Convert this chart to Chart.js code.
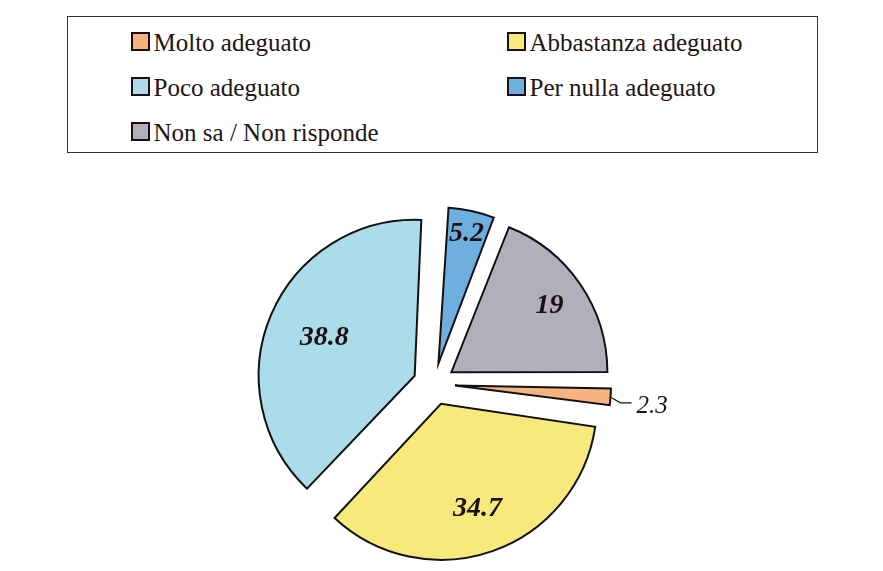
<!DOCTYPE html>
<html>
<head>
<meta charset="utf-8">
<script src="https://cdn.jsdelivr.net/npm/chart.js@4.4.1/dist/chart.umd.min.js"></script>
<style>
  body { margin: 0; background: #ffffff; }
  #wrap { position: relative; width: 883px; height: 571px; }
  #pie { position: absolute; left: 0; top: 0; }
  #legend {
    position: absolute; left: 67px; top: 16px; width: 751px; height: 137px;
    box-sizing: border-box; border: 1.5px solid #3a3030; background: #fff;
  }
  .item { position: absolute; color: #221414; white-space: nowrap; }
  .swatch {
    display: inline-block; vertical-align: top; width: 19px; height: 19px;
    box-sizing: border-box; border: 2px solid #1a1010; margin-right: 4px;
  }
</style>
</head>
<body>
<div id="wrap">
  <canvas id="pie" width="883" height="571"></canvas>
  <div id="legend"></div>
</div>
<script>
const categories = ['Molto adeguato', 'Abbastanza adeguato', 'Poco adeguato', 'Per nulla adeguato', 'Non sa / Non risponde'];
const values = [2.3, 34.7, 38.8, 5.2, 19];
const sliceColors = ['#f5b380', '#f8e97c', '#aadcea', '#6eafdf', '#b0afba'];

// legend, two columns like the original
const legend = document.getElementById('legend');
categories.forEach((name, i) => {
    const item = document.createElement('div');
    item.className = 'item';
    item.style.font = '25px/21px "Liberation Serif", "Times New Roman", serif';
    item.style.left = (i % 2 === 0 ? 62.5 : 438.5) + 'px';
    item.style.top = (14.5 + Math.floor(i / 2) * 45) + 'px';
    const box = document.createElement('span');
    box.className = 'swatch';
    box.style.backgroundColor = sliceColors[i];
    item.appendChild(box);
    item.appendChild(document.createTextNode(name));
    legend.appendChild(item);
});

const explode = 84; // chart.js moves the slice by offset / 4
const labelRadius = [0, 0.71, 0.63, 0.85, 0.76];

// chart.js grows thin exploded slices, undo that
function radiusBonus(arc) {
    return (explode / 4) * (1 - Math.sin(Math.min(Math.PI, arc.circumference)));
}

const radiusFix = {
    id: 'radiusFix',
    afterDatasetsUpdate(chart) {
        chart.getDatasetMeta(0).data.forEach(arc => {
            arc.outerRadius -= radiusBonus(arc);
        });
    }
};

const sliceLabels = {
    id: 'sliceLabels',
    afterDatasetsDraw(chart) {
        const ctx = chart.ctx;
        const meta = chart.getDatasetMeta(0);
        meta.data.forEach((arc, i) => {
            const p = arc.getProps(['x', 'y', 'startAngle', 'endAngle', 'outerRadius']);
            const mid = (p.startAngle + p.endAngle) / 2;
            const shift = explode / 4;
            const outer = p.outerRadius + radiusBonus(arc);
            const cos = Math.cos(mid), sin = Math.sin(mid);
            ctx.save();
            ctx.fillStyle = '#1a1010';
            if (labelRadius[i] === 0) {
                // small slice: label outside with a leader line
                const ex = p.x + cos * (shift + outer);
                const ey = p.y + sin * (shift + outer);
                ctx.strokeStyle = '#1a1010';
                ctx.lineWidth = 1.2;
                ctx.beginPath();
                ctx.moveTo(ex + 1, ey + 1);
                ctx.lineTo(ex + 10, ey + 6);
                ctx.lineTo(ex + 21, ey + 6);
                ctx.stroke();
                ctx.font = 'italic 25px "Liberation Serif"';
                ctx.textAlign = 'left';
                ctx.textBaseline = 'alphabetic';
                ctx.fillText(values[i].toString(), ex + 26, ey + 16);
            } else {
                const r = shift + outer * labelRadius[i];
                ctx.font = 'italic bold 28px "Liberation Serif"';
                ctx.textAlign = 'center';
                ctx.textBaseline = 'middle';
                ctx.fillText(values[i].toString(), p.x + cos * r, p.y + sin * r);
            }
            ctx.restore();
        });
    }
};

new Chart(document.getElementById('pie'), {
    type: 'pie',
    data: {
        labels: categories,
        datasets: [{
            data: values,
            backgroundColor: sliceColors,
            borderColor: '#111111',
            borderWidth: 2,
            offset: explode,
            borderJoinStyle: 'miter'
        }]
    },
    options: {
        responsive: false,
        animation: false,
        devicePixelRatio: 1,
        rotation: 90,
        radius: 156,
        layout: { padding: { left: 234, right: 249, top: 200, bottom: 3 } },
        plugins: {
            legend: { display: false },
            tooltip: { enabled: false }
        }
    },
    plugins: [radiusFix, sliceLabels]
});
</script>
</body>
</html>
